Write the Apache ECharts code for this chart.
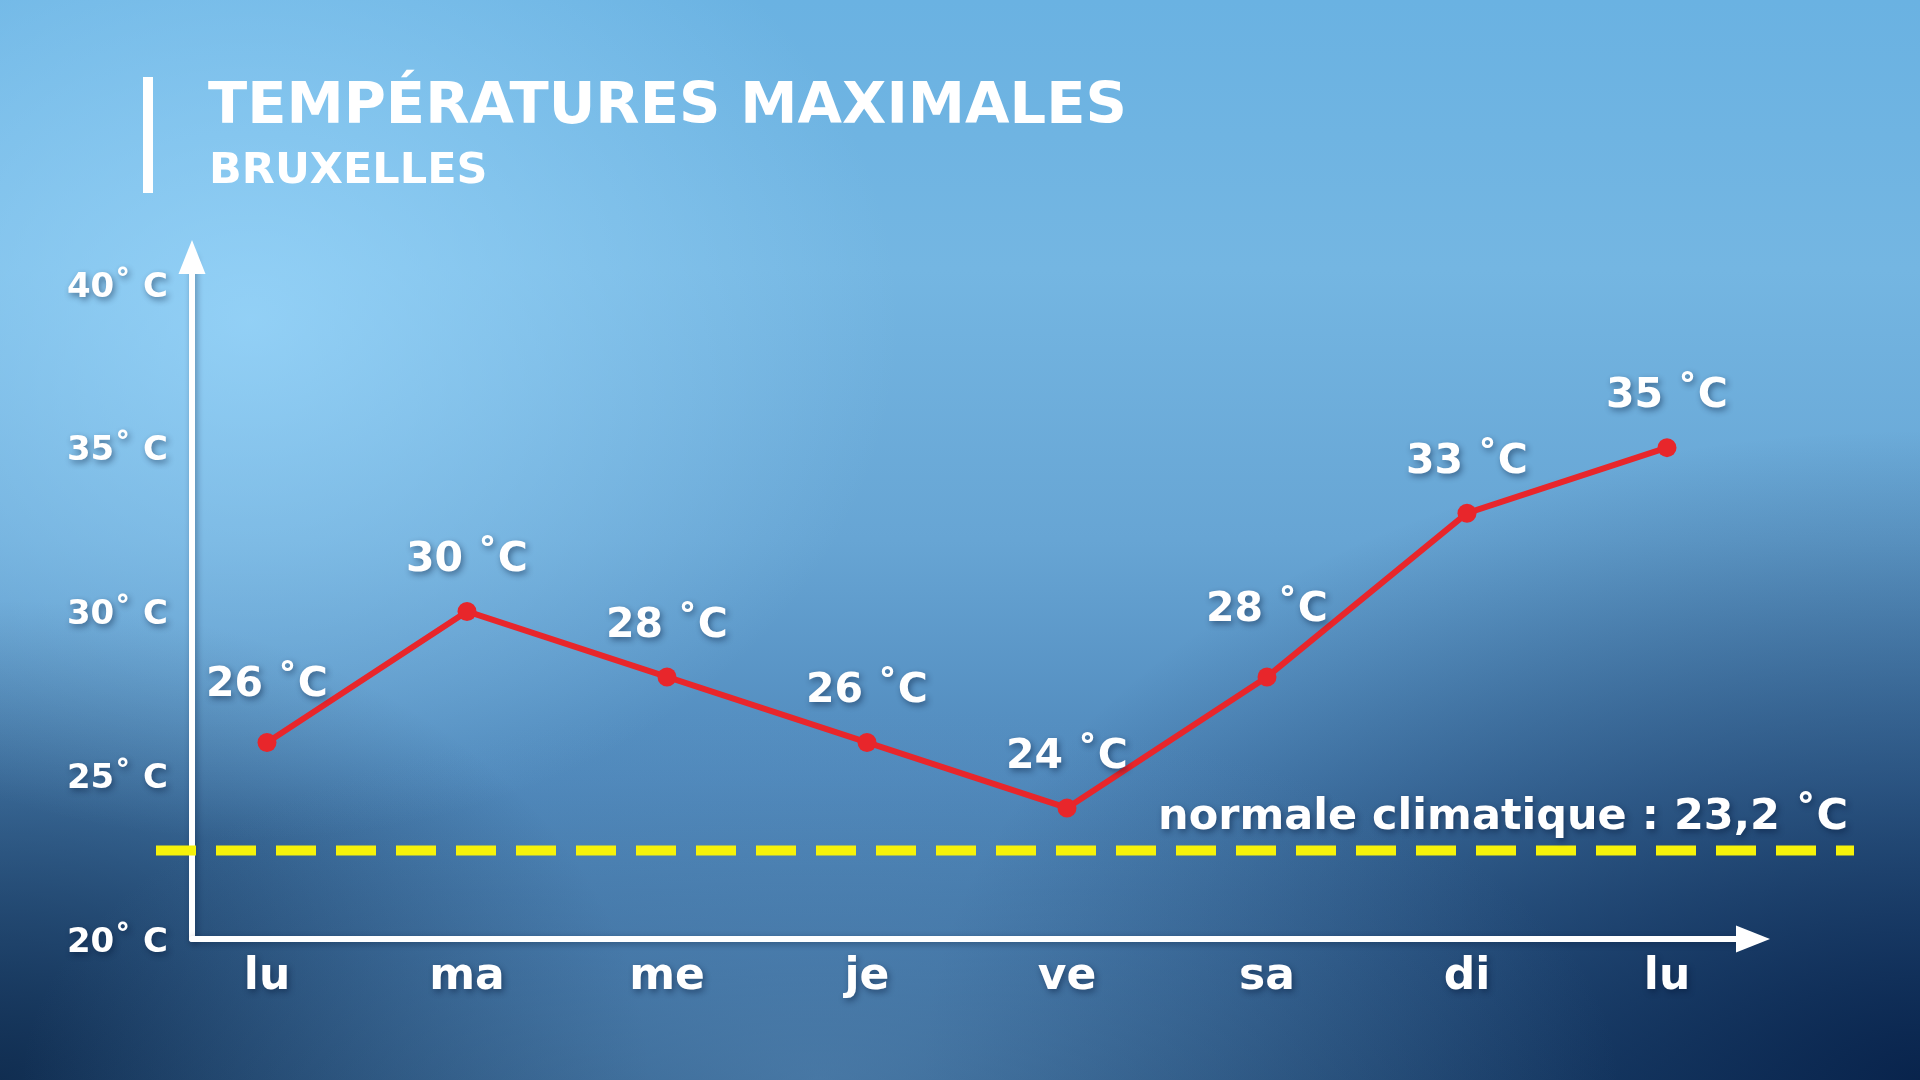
<!DOCTYPE html>
<html>
<head>
<meta charset="utf-8">
<script src="https://cdn.jsdelivr.net/npm/echarts@6/dist/echarts.min.js"></script>
<style>
html,body{margin:0;padding:0;width:1920px;height:1080px;overflow:hidden;}
#bg{position:absolute;left:0;top:0;width:1920px;height:1080px;
background:
 radial-gradient(ellipse 650px 520px at 250px 320px, rgba(160,220,255,0.7), rgba(160,220,255,0) 100%),
 radial-gradient(ellipse 800px 380px at 820px 1080px, rgba(100,150,195,0.5), rgba(100,150,195,0) 100%),
 radial-gradient(ellipse 1000px 650px at 1920px 1080px, rgba(5,30,70,0.9), rgba(5,30,70,0) 100%),
 radial-gradient(ellipse 650px 480px at 0px 1080px, rgba(12,38,72,0.85), rgba(12,38,72,0) 100%),
 linear-gradient(180deg, #6ab2e2 0%, #74b6e2 25%, #67a5d4 50%, #4f88bb 72%, #3a6d9e 88%, #2a5885 100%);
}
#main{position:absolute;left:0;top:0;width:1920px;height:1080px;}
</style>
</head>
<body>
<div id="bg"></div>
<div id="main"></div>
<script>
const titleText = 'TEMPÉRATURES MAXIMALES';
const subtitleText = 'BRUXELLES';
const days = ['lu', 'ma', 'me', 'je', 've', 'sa', 'di', 'lu'];
const temps = [26, 30, 28, 26, 24, 28, 33, 35];
const yTicks = [20, 25, 30, 35, 40];
const normalText = 'normale climatique : 23,2 ˚C';
const normalDrawn = 22.7;

const FONT = '"DejaVu Sans", sans-serif';
const shadow = {textShadowColor: 'rgba(0,20,50,0.45)', textShadowBlur: 6, textShadowOffsetX: 2, textShadowOffsetY: 3};
// label lift tweaks (style only), per point index
const extraLift = {0: 6, 5: 16};

const chart = echarts.init(document.getElementById('main'), null, {renderer: 'canvas'});
const titleShadow = {shadowColor: 'rgba(0,20,50,0.5)', shadowBlur: 8, shadowOffsetX: 3, shadowOffsetY: 4};
const option = {
  backgroundColor: 'transparent',
  animation: false,
  graphic: [
    {type: 'rect', shape: {x: 143, y: 77, width: 10, height: 116}, style: {fill: '#ffffff'}},
    {type: 'text', left: 208, top: 79, style: Object.assign({text: titleText, fill: '#fff', font: 'bold 57.5px ' + FONT}, titleShadow)},
    {type: 'text', left: 209, top: 150, style: Object.assign({text: subtitleText, fill: '#fff', font: 'bold 43px ' + FONT}, titleShadow)}
  ],
  grid: [
    {left: 192, right: 167, top: 257, bottom: 141, containLabel: false},
    {left: 156, right: 66, top: 257, bottom: 141, containLabel: false}
  ],
  xAxis: [
    {
      type: 'value', gridIndex: 0, min: -0.375, max: 7.43, interval: 0.125,
      axisLine: {show: true, onZero: false, symbol: ['none', 'triangle'], symbolSize: [27, 34],
        lineStyle: {color: '#fff', width: 6, shadowColor: 'rgba(0,20,50,0.35)', shadowBlur: 6, shadowOffsetX: 2, shadowOffsetY: 2}},
      axisTick: {show: false},
      splitLine: {show: false},
      axisLabel: Object.assign({
        margin: 17, color: '#fff', fontFamily: FONT, fontWeight: 'bold', fontSize: 44,
        formatter: function (v) { const r = Math.round(v); return (Math.abs(v - r) < 1e-6 && r >= 0 && r < days.length) ? days[r] : ''; }
      }, shadow)
    },
    {type: 'value', gridIndex: 1, min: 0, max: 1, show: false}
  ],
  yAxis: [
    {
      type: 'value', gridIndex: 0, min: 20, max: 40.82, interval: 5,
      axisLine: {show: true, onZero: false, symbol: ['none', 'triangle'], symbolSize: [27, 34],
        lineStyle: {color: '#fff', width: 6, shadowColor: 'rgba(0,20,50,0.35)', shadowBlur: 6, shadowOffsetX: 2, shadowOffsetY: 2}},
      axisTick: {show: false},
      splitLine: {show: false},
      axisLabel: Object.assign({
        margin: 24, color: '#fff', fontFamily: FONT, fontWeight: 'bold', fontSize: 34,
        formatter: function (v) { return yTicks.indexOf(v) >= 0 ? '{t|' + v + '˚ C}' : ''; },
        rich: {t: {color: '#fff', fontFamily: FONT, fontWeight: 'bold', fontSize: 34, padding: [8, 0, 0, 0]}}
      }, shadow)
    },
    {type: 'value', gridIndex: 1, min: 20, max: 40.82, show: false}
  ],
  series: [
    {
      type: 'line', xAxisIndex: 1, yAxisIndex: 1, z: 3,
      data: [[0, normalDrawn], {value: [1, normalDrawn], label: Object.assign({
        show: true, position: 'top', align: 'right', distance: 10, offset: [-6, 0],
        formatter: function () { return normalText; },
        color: '#fff', fontFamily: FONT, fontWeight: 'bold', fontSize: 43
      }, shadow)}],
      symbol: 'circle', symbolSize: 2, showSymbol: true,
      itemStyle: {color: 'rgba(0,0,0,0)'},
      label: {show: false},
      lineStyle: {color: '#f6f20a', width: 10, type: [40, 20], cap: 'butt'},
      silent: true
    },
    {
      type: 'line', xAxisIndex: 0, yAxisIndex: 0, z: 4,
      data: temps.map(function (t, i) {
        const item = {value: [i, t]};
        if (extraLift[i]) item.label = {distance: 21 + extraLift[i]};
        return item;
      }),
      symbol: 'circle', symbolSize: 19,
      itemStyle: {color: '#e8262b'},
      lineStyle: {color: '#e8262b', width: 6},
      label: Object.assign({
        show: true, position: 'top', distance: 21,
        formatter: function (p) { return p.value[1] + ' ˚C'; },
        color: '#fff', fontFamily: FONT, fontWeight: 'bold', fontSize: 41
      }, shadow)
    }
  ]
};
chart.setOption(option);
</script>
</body>
</html>
